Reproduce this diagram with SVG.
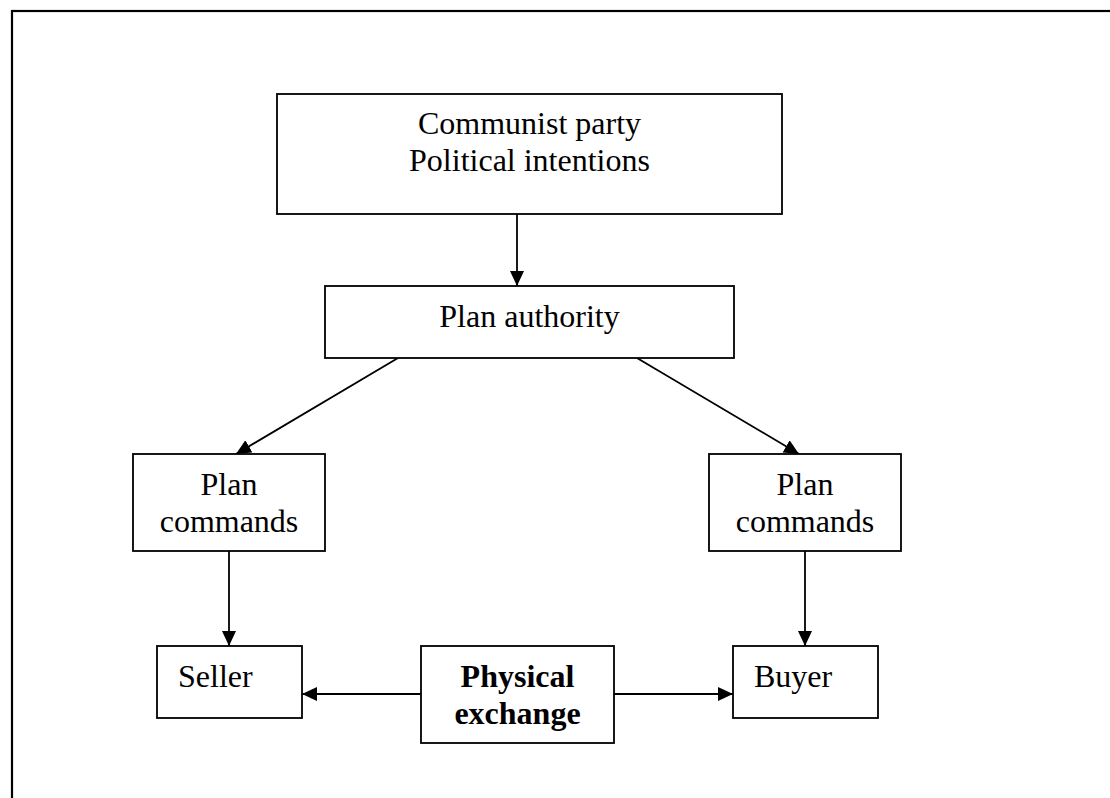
<svg xmlns="http://www.w3.org/2000/svg" width="1110" height="798" viewBox="0 0 1110 798">
<style>
.box{fill:#fff;stroke:#000;stroke-width:1.8}
.t{font-family:"Liberation Serif","Times New Roman",serif;font-size:32px;fill:#000}
.b{font-weight:bold}
.c{text-anchor:middle}
.ln{stroke:#000;stroke-width:1.8;fill:none;marker-end:url(#ah)}
</style>
<defs>
<marker id="ah" markerUnits="userSpaceOnUse" markerWidth="16" markerHeight="15" refX="15" refY="7" orient="auto">
<path d="M0,0 L15,7 L0,14 z" fill="#000"/>
</marker>
</defs>
<rect x="12" y="11" width="1110" height="800" fill="#fff" stroke="#000" stroke-width="2.2"/>
<g id="connectors">
<line class="ln" x1="517" y1="214" x2="517" y2="286"/>
<line class="ln" x1="398" y1="358" x2="236" y2="454"/>
<line class="ln" x1="637" y1="358" x2="799" y2="454"/>
<line class="ln" x1="229" y1="551" x2="229" y2="646"/>
<line class="ln" x1="805" y1="551" x2="805" y2="646"/>
<line class="ln" x1="421" y1="694" x2="302" y2="694"/>
<line class="ln" x1="614" y1="694" x2="733" y2="694"/>
</g>
<g id="communist">
<rect class="box" x="277" y="94" width="505" height="120"/>
<text class="t c" x="529.5" y="134">Communist party</text>
<text class="t c" x="529.5" y="171">Political intentions</text>
</g>
<g id="authority">
<rect class="box" x="325" y="286" width="409" height="72"/>
<text class="t c" x="529.5" y="327">Plan authority</text>
</g>
<g id="cmdLeft">
<rect class="box" x="133" y="454" width="192" height="97"/>
<text class="t c" x="229" y="495">Plan</text>
<text class="t c" x="229" y="532">commands</text>
</g>
<g id="cmdRight">
<rect class="box" x="709" y="454" width="192" height="97"/>
<text class="t c" x="805" y="495">Plan</text>
<text class="t c" x="805" y="532">commands</text>
</g>
<g id="seller">
<rect class="box" x="157" y="646" width="145" height="72"/>
<text class="t" x="178" y="687">Seller</text>
</g>
<g id="exchange">
<rect class="box" x="421" y="646" width="193" height="97"/>
<text class="t b c" x="517.5" y="687">Physical</text>
<text class="t b c" x="517.5" y="724">exchange</text>
</g>
<g id="buyer">
<rect class="box" x="733" y="646" width="145" height="72"/>
<text class="t" x="754" y="687">Buyer</text>
</g>
</svg>
